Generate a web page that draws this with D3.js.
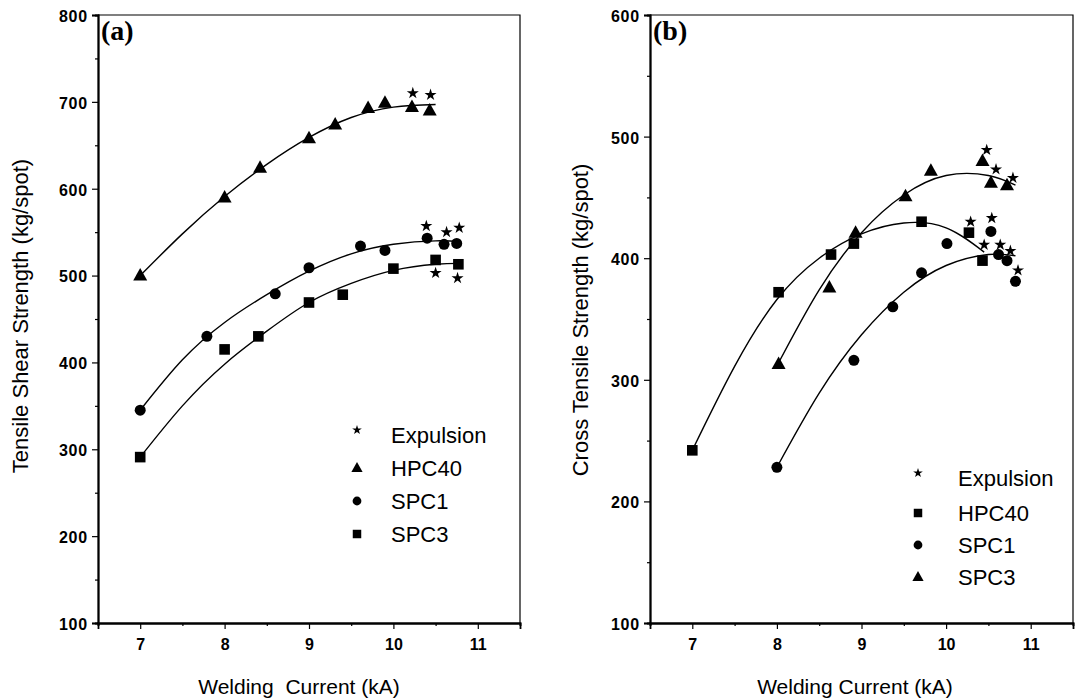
<!DOCTYPE html>
<html>
<head>
<meta charset="utf-8">
<script src="https://cdn.jsdelivr.net/npm/d3@7"></script>
<style>
	body { margin: 0; background: #fff; }
	svg text { fill: #000; }
</style>
</head>
<body>
<div id="chart"></div>
<script>
// shared x ticks
let xMajor = [7, 8, 9, 10, 11];
let xMinor = [6.5, 7.5, 8.5, 9.5, 10.5, 11.5];

// panel (a): tensile shear strength
let aYMajor = [100, 200, 300, 400, 500, 600, 700, 800];
let aYMinor = [150, 250, 350, 450, 550, 650, 750];
let aHPC40 = [[7, 500], [8, 590], [8.42, 624], [9, 658], [9.31, 674], [9.7, 693], [9.9, 699], [10.22, 694], [10.43, 690]];
let aSPC1 = [[7, 345], [7.79, 430], [8.6, 479], [9, 509], [9.61, 534], [9.9, 529], [10.4, 543], [10.6, 536], [10.75, 537]];
let aSPC3 = [[7, 291], [8, 415], [8.4, 430], [9, 469], [9.4, 478], [10, 508], [10.5, 518], [10.77, 513]];
let aStars = [[10.23, 710], [10.44, 708], [10.39, 557], [10.63, 550], [10.78, 555], [10.5, 503], [10.76, 497]];
let aFitHPC40 = [[7, 500], [7.5, 548], [8, 591], [8.5, 628], [9, 659], [9.5, 682], [10, 694], [10.5, 697]];
let aFitSPC1 = [[7, 345], [7.5, 403], [8, 446], [8.5, 478], [9, 505], [9.5, 525], [10, 536], [10.5, 540], [10.8, 539]];
let aFitSPC3 = [[7, 291], [7.5, 350], [8, 398], [8.5, 436], [9, 469], [9.5, 491], [10, 506], [10.5, 513], [10.8, 514]];

// panel (b): cross tensile strength
let bYMajor = [100, 200, 300, 400, 500, 600];
let bYMinor = [150, 250, 350, 450, 550];
let bHPC40 = [[7, 242], [8.02, 372], [8.64, 403], [8.91, 412], [9.71, 430], [10.27, 421], [10.43, 398]];
let bSPC1 = [[8, 228], [8.91, 316], [9.37, 360], [9.71, 388], [10.01, 412], [10.53, 422], [10.62, 403], [10.72, 398], [10.82, 381]];
let bSPC3 = [[8.02, 313], [8.62, 376], [8.93, 421], [9.52, 451], [9.82, 472], [10.43, 480], [10.53, 462], [10.72, 460]];
let bStars = [[10.29, 430], [10.45, 411], [10.48, 489], [10.59, 473], [10.79, 466], [10.54, 433], [10.64, 411], [10.76, 406], [10.85, 390]];
let bFitHPC40 = [[7, 242], [7.5, 311], [8, 366], [8.5, 400], [9, 420], [9.5, 429], [10, 425], [10.45, 405]];
let bFitSPC1 = [[8, 228], [8.5, 289], [9, 337], [9.5, 372], [10, 394], [10.5, 403], [10.82, 402]];
let bFitSPC3 = [[8.02, 314], [8.5, 374], [9, 421], [9.5, 452], [10, 468], [10.5, 468], [10.82, 460]];

let legendNames = ["Expulsion", "HPC40", "SPC1", "SPC3"];

let Chart = {
	constant: {
		width: 1076,
		height: 699,
		top: 15,
		bottom: 623,
		sans: "Arial, 'Liberation Sans', sans-serif",
		serif: "'Liberation Serif', 'Times New Roman', serif"
	},
	svg: null,
	shape: {
		triangle: (g, s) => g.append("path").attr("d", `M0,${-7.5 * s}L${7 * s},${5 * s}L${-7 * s},${5 * s}Z`),
		circle: (g, s) => g.append("circle").attr("r", 5.5 * s),
		square: (g, s) => g.append("rect").attr("x", -5.3 * s).attr("y", -5.3 * s).attr("width", 10.6 * s).attr("height", 10.6 * s),
		star: (g, s) => g.append("path").attr("d", d3.symbol(d3.symbolStar, 45 * s * s)())
	},
	init: (strSelector) => {
		Chart.svg = d3.select(strSelector)
			.append("svg")
			.attr("width", Chart.constant.width)
			.attr("height", Chart.constant.height)
			.style("font-family", Chart.constant.sans)
		;
	},
	panel: (p) => {
		let c = Chart.constant;
		let svg = Chart.svg;
		let x = d3.scaleLinear().domain([6.5, 11.5]).range([p.left, p.right]);
		let y = d3.scaleLinear().domain(p.yDomain).range([c.bottom, c.top]);
		let g = svg.append("g");

		/* frame */
		g.append("path")
			.attr("d", `M${p.left},${c.top}H${p.right}V${c.bottom}`)
			.attr("fill", "none")
			.attr("stroke", "#000")
			.attr("stroke-width", 1.2)
		;

		/* axes */
		let yAxis = g.append("g").attr("transform", `translate(${p.left},0)`)
			.call(d3.axisLeft(y).tickValues(p.yMajor).tickSize(6).tickPadding(4).tickFormat(d3.format("d")));
		g.append("g").attr("transform", `translate(${p.left},0)`)
			.call(d3.axisLeft(y).tickValues(p.yMinor).tickSize(3).tickFormat(""));
		let xAxis = g.append("g").attr("transform", `translate(0,${c.bottom})`)
			.call(d3.axisBottom(x).tickValues(xMajor).tickSize(6).tickPadding(10).tickFormat(d3.format("d")));
		g.append("g").attr("transform", `translate(0,${c.bottom})`)
			.call(d3.axisBottom(x).tickValues(xMinor).tickSize(3).tickFormat(""));
		g.selectAll(".domain").attr("stroke-width", 1.8);
		g.selectAll(".tick line").attr("stroke-width", 1.2);
		g.selectAll(".tick text").style("font-family", c.sans);
		yAxis.selectAll("text")
			.attr("font-size", 16)
			.attr("font-weight", "bold")
			.attr("letter-spacing", 0.8)
			.attr("dy", "0.4em")
		;
		xAxis.selectAll("text")
			.attr("font-size", 16)
			.attr("font-weight", "bold")
		;

		/* titles */
		g.append("text")
			.attr("transform", `translate(${p.yTitleX},${p.yTitleY}) rotate(-90)`)
			.attr("text-anchor", "middle")
			.attr("font-size", 22)
			.text(p.yTitle)
		;
		g.append("text")
			.attr("x", p.xTitleX)
			.attr("y", 694)
			.attr("text-anchor", "middle")
			.attr("font-size", 21)
			.attr("xml:space", "preserve")
			.text(p.xTitle)
		;
		g.append("text")
			.attr("x", p.left + 3)
			.attr("y", 40)
			.style("font-family", c.serif)
			.attr("font-weight", "bold")
			.attr("font-size", 28)
			.text(p.tag)
		;

		/* fitted curves */
		let line = d3.line().x((d) => x(d[0])).y((d) => y(d[1])).curve(d3.curveNatural);
		p.fits.forEach((f) => {
			g.append("path")
				.attr("d", line(f))
				.attr("fill", "none")
				.attr("stroke", "#000")
				.attr("stroke-width", 1.4)
			;
		});

		/* markers */
		p.series.forEach((s) => {
			s.data.forEach((d) => {
				let m = g.append("g").attr("transform", `translate(${x(d[0])},${y(d[1])})`);
				Chart.shape[s.shape](m, 1).attr("fill", "#000");
			});
		});
		p.stars.forEach((d) => {
			let m = g.append("g").attr("transform", `translate(${x(d[0])},${y(d[1])})`);
			Chart.shape.star(m, 1).attr("fill", "#000");
		});

		/* legend */
		let shapes = ["star"].concat(p.series.map((s) => s.shape));
		legendNames.forEach((name, i) => {
			let cy = p.legendY[i];
			let m = g.append("g").attr("transform", `translate(${p.legendX},${cy - (i === 0 ? 5 : 0)})`);
			Chart.shape[shapes[i]](m, 0.8).attr("fill", "#000");
			g.append("text")
				.attr("x", p.legendX + p.legendGap)
				.attr("y", cy)
				.attr("dy", "0.36em")
				.attr("font-size", 22)
				.text(name)
			;
		});
	}
};

Chart.init("#chart");
Chart.panel({
	left: 98,
	right: 520,
	yDomain: [100, 800],
	yMajor: aYMajor,
	yMinor: aYMinor,
	yTitle: "Tensile Shear Strength (kg/spot)",
	yTitleX: 28,
	yTitleY: 316,
	xTitle: "Welding  Current (kA)",
	xTitleX: 299,
	tag: "(a)",
	series: [
		{shape: "triangle", data: aHPC40},
		{shape: "circle", data: aSPC1},
		{shape: "square", data: aSPC3}
	],
	fits: [aFitHPC40, aFitSPC1, aFitSPC3],
	stars: aStars,
	legendX: 357,
	legendGap: 34,
	legendY: [435, 468, 501, 534]
});
Chart.panel({
	left: 650,
	right: 1073,
	yDomain: [100, 600],
	yMajor: bYMajor,
	yMinor: bYMinor,
	yTitle: "Cross Tensile Strength (kg/spot)",
	yTitleX: 588,
	yTitleY: 320,
	xTitle: "Welding Current (kA)",
	xTitleX: 855,
	tag: "(b)",
	series: [
		{shape: "square", data: bHPC40},
		{shape: "circle", data: bSPC1},
		{shape: "triangle", data: bSPC3}
	],
	fits: [bFitHPC40, bFitSPC1, bFitSPC3],
	stars: bStars,
	legendX: 918,
	legendGap: 40,
	legendY: [478, 513, 545, 577]
});
</script>
</body>
</html>
